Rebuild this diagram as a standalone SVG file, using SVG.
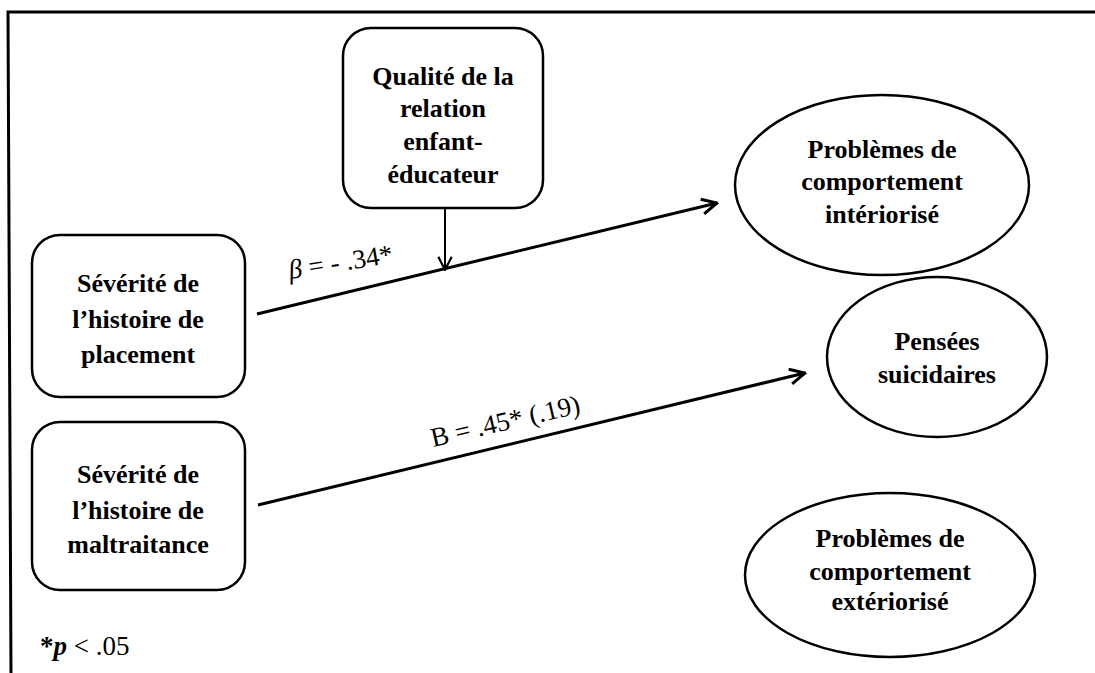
<svg xmlns="http://www.w3.org/2000/svg" width="1095" height="673" viewBox="0 0 1095 673">
<style>
.frame{fill:none;stroke:#000;stroke-width:3}
.box{fill:#fff;stroke:#000;stroke-width:2.5}
.ell{fill:#fff;stroke:#000;stroke-width:2.5}
.lbl{font-family:"Liberation Serif",serif;font-weight:bold;font-size:26px;fill:#000;text-anchor:middle}
.coef{font-family:"Liberation Serif",serif;font-size:27px;fill:#000}
.con{fill:none;stroke:#000;stroke-width:3}
.con2{fill:none;stroke:#000;stroke-width:2}
</style>
<defs>
<marker id="ah" viewBox="0 0 12 12" refX="11" refY="6" markerWidth="6" markerHeight="6" markerUnits="strokeWidth" orient="auto">
<path d="M1,1 L11,6 L1,11" fill="none" stroke="#000" stroke-width="2"/>
</marker>
<marker id="ah2" viewBox="0 0 12 12" refX="11" refY="6" markerWidth="8" markerHeight="8" markerUnits="strokeWidth" orient="auto">
<path d="M1,1 L11,6 L1,11" fill="none" stroke="#000" stroke-width="1.6"/>
</marker>
</defs>
<rect width="1095" height="673" fill="#fff"/>
<path class="frame" d="M1095,12 L8,12 L11,673"/>
<g id="qualite">
<rect class="box" x="343" y="28" width="200" height="180" rx="28"/>
<text class="lbl" x="443" y="85">Qualité de la</text>
<text class="lbl" x="443" y="117">relation</text>
<text class="lbl" x="443" y="150">enfant-</text>
<text class="lbl" x="443" y="183">éducateur</text>
</g>
<g id="placement">
<rect class="box" x="32" y="235" width="213" height="162" rx="28"/>
<text class="lbl" x="138" y="292">Sévérité de</text>
<text class="lbl" x="138" y="328">l’histoire de</text>
<text class="lbl" x="138" y="363">placement</text>
</g>
<g id="maltraitance">
<rect class="box" x="32" y="422" width="213" height="168" rx="28"/>
<text class="lbl" x="138" y="483">Sévérité de</text>
<text class="lbl" x="138" y="519">l’histoire de</text>
<text class="lbl" x="138" y="553">maltraitance</text>
</g>
<g id="interiorise">
<ellipse class="ell" cx="882" cy="185" rx="147" ry="90"/>
<text class="lbl" x="882" y="158">Problèmes de</text>
<text class="lbl" x="882" y="190">comportement</text>
<text class="lbl" x="882" y="223">intériorisé</text>
</g>
<g id="suicidaires">
<ellipse class="ell" cx="937" cy="357" rx="110" ry="80"/>
<text class="lbl" x="937" y="350">Pensées</text>
<text class="lbl" x="937" y="383">suicidaires</text>
</g>
<g id="exteriorise">
<ellipse class="ell" cx="890" cy="575" rx="145" ry="82"/>
<text class="lbl" x="890" y="547">Problèmes de</text>
<text class="lbl" x="890" y="580">comportement</text>
<text class="lbl" x="890" y="610">extériorisé</text>
</g>
<g id="connectors">
<line class="con" x1="257" y1="314" x2="717" y2="203" marker-end="url(#ah)"/>
<line class="con" x1="258" y1="505" x2="805" y2="373" marker-end="url(#ah)"/>
<line class="con2" x1="445" y1="208" x2="445" y2="270" marker-end="url(#ah2)"/>
</g>
<text class="coef" transform="translate(290,279) rotate(-9)"><tspan font-style="italic">β</tspan> = - .34*</text>
<text class="coef" font-size="28" transform="translate(433,447) rotate(-13)">B = .45* (.19)</text>
<text class="coef" x="40" y="655" font-size="24"><tspan font-weight="bold">*</tspan><tspan font-weight="bold" font-style="italic">p</tspan> &lt; .05</text>
</svg>
